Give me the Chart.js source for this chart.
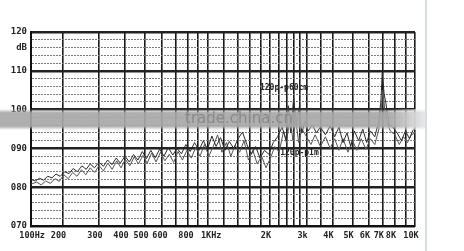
<!DOCTYPE html>
<html>
<head>
<meta charset="utf-8">
<script src="https://cdn.jsdelivr.net/npm/chart.js@4/dist/chart.umd.min.js"></script>
<style>
  body { margin: 0; background: #fff; }
  canvas { display: block; }
</style>
</head>
<body>
<canvas id="c" width="464" height="251"></canvas>
<script>
// response curves (Hz / dB)
let freq60 = [141, 148, 155, 162, 170, 178, 186, 195, 205, 215,
  225, 236, 248, 260, 272, 285, 300, 315, 330, 346,
  363, 380, 400, 420, 440, 462, 485, 508, 533, 560,
  588, 617, 647, 680, 713, 749, 786, 825, 866, 910,
  955, 1000, 1050, 1100, 1155, 1213, 1273, 1337, 1404, 1474,
  1548, 1625, 1706, 1791, 1881, 1975, 2074, 2177, 2286, 2400,
  2450, 2520, 2600, 2680, 2760, 2850, 2950, 3050, 3200, 3350,
  3500, 3700, 3900, 4100, 4300, 4500, 4700, 4900, 5100, 5350,
  5600, 5850, 6100, 6400, 6650, 6850, 6950, 7100, 7250, 7500,
  7800, 8200, 8600, 9000, 9400, 9800, 10000];
let db60 = [82.0, 81.6, 82.3, 81.8, 82.8, 82.4, 83.4, 82.8, 84.0, 83.5,
  84.8, 84.0, 85.5, 84.6, 86.0, 85.0, 86.4, 85.4, 87.0, 85.8,
  87.5, 86.2, 88.0, 86.5, 88.4, 87.0, 89.2, 87.4, 89.5, 87.6,
  89.8, 88.0, 90.2, 88.3, 90.0, 88.6, 91.0, 89.2, 91.5, 89.5,
  92.0, 89.8, 93.2, 90.5, 92.8, 89.5, 91.8, 90.0, 92.5, 94.2,
  91.0, 88.5, 90.5, 87.5, 89.5, 88.5, 91.5, 93.0, 95.5, 92.0,
  101.0, 94.0, 103.0, 96.0, 100.5, 94.0, 97.0, 94.5, 96.0, 94.0,
  95.5, 93.5, 95.8, 93.0, 95.5, 91.5, 94.0, 90.5, 94.5, 92.0,
  95.0, 91.5, 94.5, 93.0, 96.5, 102.0, 109.5, 104.0, 101.5, 96.0,
  95.5, 94.0, 92.0, 94.5, 92.5, 94.8, 95.5];

let freq1m = [141, 150, 158, 166, 175, 184, 193, 203, 213, 224,
  235, 247, 259, 272, 286, 300, 315, 331, 347, 365,
  383, 402, 422, 443, 465, 488, 512, 538, 565, 593,
  623, 654, 687, 721, 757, 795, 835, 877, 920, 966,
  1015, 1065, 1118, 1174, 1233, 1295, 1360, 1428, 1500, 1575,
  1654, 1736, 1823, 1914, 2010, 2110, 2215, 2326, 2400, 2500,
  2580, 2660, 2750, 2850, 3000, 3150, 3300, 3500, 3700, 3900,
  4100, 4300, 4500, 4750, 5000, 5250, 5500, 5800, 6100, 6400,
  6700, 6850, 7000, 7150, 7300, 7600, 8000, 8400, 8800, 9200,
  9600, 10000];
let db1m = [80.8, 81.3, 80.6, 81.6, 81.0, 82.2, 81.5, 83.2, 82.2, 83.8,
  82.8, 84.5, 83.2, 85.0, 83.8, 85.6, 84.2, 86.2, 84.6, 86.8,
  85.0, 87.2, 85.5, 87.8, 86.0, 88.2, 86.2, 88.8, 86.5, 89.0,
  86.8, 88.5, 86.4, 89.2, 87.0, 89.5, 87.5, 90.2, 88.0, 91.0,
  88.0, 90.5, 93.5, 89.0, 91.5, 88.0, 90.8, 89.0, 92.0, 87.0,
  89.5, 86.0, 88.0, 85.0, 87.5, 90.5, 89.0, 94.5, 91.5, 98.0,
  92.0, 97.5, 91.5, 95.0, 93.0, 91.0, 93.5, 90.5, 93.0, 90.0,
  92.5, 89.5, 92.5, 89.0, 92.0, 89.5, 92.5, 89.8, 92.5, 91.0,
  95.0, 99.0, 105.0, 100.0, 97.0, 94.5, 93.5, 91.0, 93.0, 91.5,
  93.5, 94.0];

// chart paper grid and labels (spaces nudge labels the way the paper prints them)
let xTickValues = [141, 200, 300, 400, 500, 600, 700, 800, 900, 1000, 1200, 1400, 1600, 1800, 2000,
  2200, 2400, 2600, 2800, 3000, 3500, 4000, 5000, 6000, 7000, 8000, 9000, 10000];
let xTickLabels = ['  100Hz', '200', '300', '400', '500', ' 600', '', ' 800', '', '   1KHz', '', '', '', '', '2K',
  '', '', '', '', '3k', '', '4K', '5K', '6K', '7K', '8K', '', '10K'];
let yTickValues = [120, 116, 110, 100, 90, 80, 70];
let yTickLabels = ['120', 'dB', '110', '100', '090', '080', '070'];

let curveNames = ['120p-p60cm', '120p-p1m'];

const labelFont = { family: '"DejaVu Sans Mono", monospace', size: 9, weight: 'bold' };

function toPoints(xs, ys) {
    return xs.map((x, i) => ({ x: x, y: ys[i] }));
}

// notes, watermark band and page edge line
const extras = {
    id: 'extras',
    afterDatasetsDraw(chart) {
        const ctx = chart.ctx;
        const xs = chart.scales.x, ys = chart.scales.y;
        ctx.save();
        ctx.font = 'bold 8px "DejaVu Sans Mono", monospace';
        ctx.fillStyle = '#222';
        ctx.textBaseline = 'middle';
        ctx.fillText(curveNames[0], xs.getPixelForValue(1790), ys.getPixelForValue(105.6));
        ctx.fillText(curveNames[1], xs.getPixelForValue(2240), ys.getPixelForValue(88.8));
        ctx.restore();
    },
    afterDraw(chart) {
        const ctx = chart.ctx;
        ctx.save();
        // grey band across the picture
        const g = ctx.createLinearGradient(0, 109, 0, 130);
        g.addColorStop(0, 'rgba(168,168,168,0)');
        g.addColorStop(0.18, 'rgba(168,168,168,0.92)');
        g.addColorStop(0.82, 'rgba(168,168,168,0.92)');
        g.addColorStop(1, 'rgba(168,168,168,0)');
        ctx.fillStyle = g;
        ctx.fillRect(0, 109, 425, 21);
        const h = ctx.createLinearGradient(390, 0, 432, 0);
        h.addColorStop(0, 'rgba(255,255,255,0)');
        h.addColorStop(1, 'rgba(255,255,255,0.85)');
        ctx.fillStyle = h;
        ctx.fillRect(390, 109, 42, 21);
        ctx.font = '15px "DejaVu Sans", sans-serif';
        ctx.fillStyle = 'rgba(135,135,135,0.95)';
        ctx.textBaseline = 'middle';
        ctx.fillText('trade.china.cn', 185, 119);
        // light edge of the page on the right
        ctx.fillStyle = '#d4dde6';
        ctx.fillRect(425, 0, 2, 251);
        ctx.restore();
    }
};

new Chart(document.getElementById('c'), {
    type: 'line',
    data: {
        datasets: [{
            label: curveNames[0],
            data: toPoints(freq60, db60),
            borderColor: '#2a2a2a',
            borderWidth: 1,
            pointRadius: 0,
            tension: 0
        }, {
            label: curveNames[1],
            data: toPoints(freq1m, db1m),
            borderColor: '#555',
            borderWidth: 1,
            pointRadius: 0,
            tension: 0
        }]
    },
    options: {
        responsive: false,
        animation: false,
        devicePixelRatio: 1,
        layout: { padding: { top: 32, right: 49, left: 0, bottom: 0 } },
        plugins: { legend: { display: false }, tooltip: { enabled: false } },
        scales: {
            x: {
                type: 'logarithmic',
                min: 141,
                max: 10000,
                afterBuildTicks: (s) => { s.ticks = xTickValues.map(v => ({ value: v })); },
                afterFit: (s) => { s.height = 25; },
                ticks: {
                    autoSkip: false,
                    maxRotation: 0,
                    padding: 5,
                    labelOffset: -4,
                    color: '#222',
                    font: { family: labelFont.family, size: 8.5, weight: 'bold' },
                    callback: (v) => {
                        const i = xTickValues.indexOf(v);
                        return i < 0 ? '' : xTickLabels[i];
                    }
                },
                grid: { color: '#1a1a1a', lineWidth: 1.6, drawTicks: false },
                border: { color: '#111', width: 2 }
            },
            y: {
                min: 70,
                max: 120,
                afterFit: (s) => { s.width = 31; },
                ticks: {
                    stepSize: 2,
                    autoSkip: false,
                    padding: 4,
                    color: '#222',
                    font: labelFont,
                    callback: (v) => {
                        const i = yTickValues.indexOf(v);
                        return i < 0 ? '' : yTickLabels[i];
                    }
                },
                grid: {
                    drawTicks: false,
                    color: (c) => c.tick && c.tick.value % 10 !== 0 ? '#7a7a7a' : '#222',
                    lineWidth: (c) => c.tick && c.tick.value % 10 !== 0 ? 1 : 2.5
                },
                border: {
                    color: '#111',
                    width: 2,
                    dash: (c) => c.tick && c.tick.value % 10 !== 0 ? [2, 1] : []
                }
            }
        }
    },
    plugins: [extras]
});
</script>
</body>
</html>
